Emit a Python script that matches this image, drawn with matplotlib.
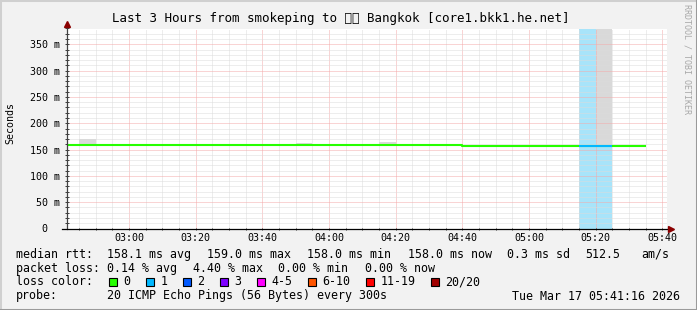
import matplotlib
matplotlib.use("Agg")
import matplotlib.pyplot as plt
from matplotlib.patches import Rectangle
from matplotlib.lines import Line2D
from matplotlib.ticker import MultipleLocator, FuncFormatter

# 5 minute bins (bin start, hh:mm)
bin_times = ["02:40", "02:45", "02:50", "02:55", "03:00", "03:05", "03:10",
             "03:15", "03:20", "03:25", "03:30", "03:35", "03:40", "03:45",
             "03:50", "03:55", "04:00", "04:05", "04:10", "04:15", "04:20",
             "04:25", "04:30", "04:35", "04:40", "04:45", "04:50", "04:55",
             "05:00", "05:05", "05:10", "05:15", "05:20", "05:25", "05:30"]
# median rtt per bin (ms)
median_ms = [158.0, 158.0, 158.0, 158.0, 158.0, 158.0, 158.0,
             158.0, 158.0, 158.0, 158.0, 158.0, 158.0, 158.0,
             158.0, 158.0, 158.0, 158.0, 158.0, 158.0, 159.2,
             159.2, 159.2, 159.2, 157.0, 157.0, 157.0, 157.0,
             157.0, 157.0, 157.0, 157.0, 157.0, 157.0, 157.0]
# top of the smoke (slowest ping) per bin, None = nothing visible
smoke_top_ms = [None, 170.0, None, None, None, None, None,
                None, None, None, None, None, 160.0, 160.0,
                163.0, None, None, None, 160.0, 164.0, None,
                None, None, None, None, None, None, 159.5,
                159.5, None, None, None, 600.0, None, None]
# loss colour class per bin (index into loss_labels)
loss_class = [0] * 31 + [1, 1] + [0, 0]

loss_labels = ["0", "1", "2", "3", "4-5", "6-10", "11-19", "20/20"]
loss_colors = ["#26ff00", "#00b8ff", "#0059ff", "#7e00ff", "#ff00ff",
               "#ff5500", "#ff0000", "#a10000"]
loss_band = {1: "#a8e4fa"}

x_ticks = ["03:00", "03:20", "03:40", "04:00", "04:20", "04:40", "05:00",
           "05:20", "05:40"]

rtt_stats = [("158.1", "avg"), ("159.0", "max"), ("158.0", "min"),
             ("158.0", "now")]
rtt_sd = "0.3"
am_s = "512.5"
loss_stats = [("0.14", "avg"), ("4.40", "max"), ("0.00", "min"), ("0.00", "now")]
probe_text = "20 ICMP Echo Pings (56 Bytes) every 300s"
stamp_text = "Tue Mar 17 05:41:16 2026"
title = "Last 3 Hours from smokeping to \U0001F1F9\U0001F1ED Bangkok [core1.bkk1.he.net]"


def to_min(s):
    h, m = s.split(":")
    return int(h) * 60 + int(m)


W, H = 697, 310
MONO = "DejaVu Sans Mono"
BG = "#f2f2f2"


def fx(x):
    return x / W


def fy(y):
    return 1 - y / H


fig = plt.figure(figsize=(W / 100, H / 100), dpi=100, facecolor=BG)
ax = fig.add_axes([fx(67), fy(228.5), 600 / W, 200 / H])
ax.set_facecolor("white")

t0 = [to_min(s) for s in bin_times]
ymax = 0.38

# loss background
for t, c in zip(t0, loss_class):
    if c in loss_band:
        ax.bar(t, ymax, width=5, align="edge", color=loss_band[c], zorder=1)

# smoke
for t, m, s in zip(t0, median_ms, smoke_top_ms):
    if s is not None:
        ax.bar(t, (s - m) / 1000, bottom=m / 1000, width=5, align="edge",
               color="#d9d9d9", zorder=1.2)

# median line, coloured by loss
xs = t0 + [t0[-1] + 5]
ys = [m / 1000 for m in median_ms] + [median_ms[-1] / 1000]
ax.step(xs, ys, where="post", color=loss_colors[0], lw=1.5, zorder=3,
        solid_capstyle="butt")
for t, m, c in zip(t0, median_ms, loss_class):
    if c != 0:
        ax.hlines(m / 1000, t, t + 5, color=loss_colors[c], lw=1.5, zorder=3.1)

ax.set_xlim(161.4, 341.4)
ax.set_ylim(0, ymax)

ax.set_xticks([to_min(s) for s in x_ticks])
ax.set_xticklabels(x_ticks)
ax.xaxis.set_minor_locator(MultipleLocator(5))
ax.yaxis.set_major_locator(MultipleLocator(0.05))
ax.yaxis.set_minor_locator(MultipleLocator(0.01))


def yfmt(v, pos):
    ms = int(round(v * 1000))
    if ms == 0:
        return "0  "
    return f"{ms} m"


ax.yaxis.set_major_formatter(FuncFormatter(yfmt))

ax.set_axisbelow(False)
ax.grid(which="minor", color="#dcdcdc", linestyle=(0, (1, 1)), lw=0.72, zorder=2)
ax.grid(which="major", color="#f4aaaa", linestyle=(0, (1, 1)), lw=0.72, zorder=2)

for sp in ax.spines.values():
    sp.set_visible(False)

ax.tick_params(which="both", direction="inout", color="#404040", width=0.72)
ax.tick_params(axis="y", which="major", length=3, pad=3.5, labelsize=7.2)
ax.tick_params(axis="y", which="minor", length=3)
ax.tick_params(axis="x", which="major", length=2, pad=2.3, labelsize=7.2)
ax.tick_params(axis="x", which="minor", length=2)
for lab in ax.get_xticklabels() + ax.get_yticklabels():
    lab.set_fontfamily(MONO)

# axes with arrows
ax.plot([0, 0], [0, 1.02], transform=ax.transAxes, color="#404040", lw=0.9,
        clip_on=False, zorder=4)
ax.plot([-0.008, 1.005], [0, 0], transform=ax.transAxes, color="black", lw=0.9,
        clip_on=False, zorder=4)
ax.plot([0], [1.025], marker="^", ms=4.5, color="#8b0000", transform=ax.transAxes,
        clip_on=False, zorder=5)
ax.plot([1.007], [0], marker=">", ms=4.5, color="#8b0000", transform=ax.transAxes,
        clip_on=False, zorder=5)

ax.set_ylabel("Seconds", fontfamily=MONO, fontsize=7.2)
ax.yaxis.set_label_coords(-0.086, 0.53)

fig.text(fx(340.5), fy(18.5), title, ha="center", va="center", fontfamily=MONO,
         fontsize=9)
fig.text(fx(687), fy(4), "RRDTOOL / TOBI OETIKER", rotation=270, ha="center",
         va="top", fontfamily=MONO, fontsize=6, color="#a8a8a8")

# legend
LS = 8.4
row_y = [254.3, 268.3, 281.7, 296.0]


def legend_text(x, y, s, **kw):
    fig.text(fx(x), fy(y), s, ha="left", va="center", fontfamily=MONO,
             fontsize=LS, **kw)


legend_text(16, row_y[0], "median rtt:")
for x, (v, k) in zip([107.3, 207.3, 307.3, 407.7], rtt_stats):
    legend_text(x, row_y[0], f"{v} ms {k}")
legend_text(507.3, row_y[0], f"{rtt_sd} ms sd")
legend_text(585.7, row_y[0], am_s)
legend_text(641.7, row_y[0], "am/s")

legend_text(16, row_y[1], "packet loss:")
for x, (v, k) in zip([107.3, 192.7, 278.3, 365.0], loss_stats):
    legend_text(x, row_y[1], f"{v} % {k}")

legend_text(16, row_y[2], "loss color:")
bx = 108.7
for lab, col in zip(loss_labels, loss_colors):
    fig.patches.append(Rectangle((fx(bx), fy(row_y[2] + 4)), 8 / W, 8 / H,
                                 transform=fig.transFigure, facecolor=col,
                                 edgecolor="black", lw=0.8))
    legend_text(bx + 14.7, row_y[2], lab)
    bx = bx + 14.7 + 7.0 * len(lab) + 15.3

legend_text(16, row_y[3], "probe:")
legend_text(107.3, row_y[3], probe_text)
fig.text(fx(680.5), fy(row_y[3]), stamp_text, ha="right", va="center",
         fontfamily=MONO, fontsize=LS)

# 3d frame
fig.add_artist(Line2D([0, 0, 1], [0, 1, 1], transform=fig.transFigure,
                      color="#d0d0d0", lw=2.2))
fig.add_artist(Line2D([0, 1, 1], [0, 0, 1], transform=fig.transFigure,
                      color="#9a9a9a", lw=2.2))

fig.savefig("out.png", dpi=100, facecolor=BG)
